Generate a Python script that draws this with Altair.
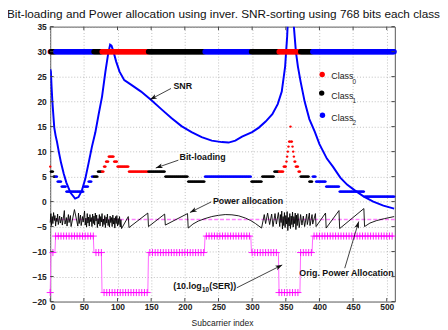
import math
import altair as alt
import pandas as pd

# ---------------- data ----------------
N_SUB = 512

# (first subcarrier, last subcarrier, class)
CLASS_RUNS = [(0, 0, 0), (1, 7, 1), (8, 64, 2), (65, 76, 1), (77, 145, 0),
              (146, 229, 1), (230, 298, 2), (299, 339, 1), (340, 371, 0),
              (372, 389, 1), (390, 511, 2)]

# (first subcarrier, last subcarrier, bits)
BIT_RUNS = [(0, 0, 7), (1, 4, 6), (5, 7, 5), (8, 10, 5), (11, 16, 4), (17, 23, 3),
            (24, 49, 2), (50, 56, 3), (57, 61, 4), (62, 64, 5), (65, 70, 5),
            (71, 76, 6), (77, 79, 6), (80, 82, 7), (83, 86, 8), (87, 94, 9),
            (95, 99, 8), (100, 116, 7), (117, 145, 6), (146, 170, 6),
            (171, 204, 5), (205, 229, 4), (230, 298, 5), (299, 314, 4),
            (315, 332, 5), (333, 339, 6), (340, 346, 6), (347, 350, 7),
            (351, 351, 8), (352, 352, 9), (353, 353, 10), (354, 354, 11),
            (355, 356, 12), (357, 357, 15), (358, 359, 12), (360, 360, 11),
            (361, 361, 10), (362, 362, 9), (363, 364, 8), (365, 368, 7),
            (369, 371, 6), (372, 384, 5), (385, 389, 4), (390, 394, 5),
            (395, 409, 4), (410, 429, 3), (430, 466, 2), (467, 511, 1)]

SER_DB = [-18.2, -10.2, -6.9]            # 10.log10(SER) per class
CLASS_NAMES = ["Class", "Class", "Class"]
CLASS_SUBS = ["0", "1", "2"]
BAND_Y = 30
ORIG_POWER_DB = -3.6

SNR_X = [0, 1, 2, 3, 4, 6, 8, 10, 13, 16, 20, 24, 30, 37, 42, 47, 52, 57, 62, 67,
         72, 77, 82, 86, 89, 91, 94, 98, 103, 110, 120, 135, 150, 165, 180, 195,
         210, 225, 240, 255, 265, 275, 285, 300, 310, 320, 330, 338, 344, 349,
         352, 354, 357, 360, 362, 365, 368, 372, 378, 385, 393, 400, 411, 420,
         431, 441, 452, 466, 480, 495, 511]
SNR_DB = [26.5, 26.0, 23.0, 20.5, 18.5, 14.8, 13.2, 12.0, 9.8, 7.8, 5.6, 3.8, 1.8,
          0.6, 0.9, 2.2, 4.5, 7.7, 11.0, 13.8, 17.5, 21.0, 26.0, 29.5, 31.4, 31.2,
          30.0, 28.0, 26.0, 24.3, 23.4, 22.0, 20.3, 18.5, 16.7, 15.1, 13.9, 12.9,
          12.2, 11.9, 11.8, 12.2, 13.0, 13.9, 14.8, 16.0, 17.5, 19.5, 22.0, 27.0,
          33.0, 39.0, 45.0, 39.0, 35.0, 30.0, 27.0, 24.0, 20.0, 16.5, 14.0, 11.5,
          8.6, 7.0, 4.8, 3.4, 2.3, 1.0, 0.0, -0.8, -1.4]

POW_X = [0, 1, 2, 3, 4, 5, 6, 7, 8, 9, 10, 11, 12, 14, 15, 17, 18, 21, 22, 24, 25,
         27, 28, 30, 31, 36, 41, 42, 43, 45, 46, 48, 49, 51, 52, 53, 54, 55, 56,
         57, 58, 59, 60, 61, 62, 63, 64, 65, 66, 67, 68, 69, 70, 71, 72, 73, 74,
         75, 76, 77, 78, 79, 80, 81, 82, 83, 84, 85, 86, 87, 88, 89, 90, 91, 92,
         93, 94, 95, 96, 97, 98, 99, 100, 101, 102, 103, 104, 105, 106, 116, 117,
         145, 146, 170, 171, 204, 205, 212, 220, 230, 240, 250, 260, 270, 280,
         290, 298, 305, 314, 318, 320, 323, 326, 329, 331, 334, 336, 339, 341,
         342, 343, 344, 345, 346, 347, 348, 349, 350, 351, 352, 353, 354, 355,
         356, 357, 358, 359, 360, 361, 362, 363, 364, 365, 366, 367, 368, 370,
         372, 374, 376, 378, 381, 382, 385, 386, 389, 390, 394, 395, 409, 410,
         429, 430, 466, 467, 475, 485, 497, 511]
POW_DB = [-4.2, -2.4, -4.8, -3.0, -4.4, -2.2, -3.8, -2.8, -4.9, -3.3, -4.0, -2.5,
          -4.6, -2.9, -4.3, -3.1, -4.7, -1.8, -4.5, -3.2, -4.9, -2.6, -4.2, -2.8,
          -5.0, -1.6, -4.9, -2.3, -4.4, -2.7, -4.8, -3.0, -4.1, -1.9, -4.7, -3.3,
          -5.1, -2.4, -4.3, -3.1, -4.9, -2.6, -4.0, -3.2, -5.0, -2.5, -4.4, -2.9,
          -4.7, -2.3, -3.9, -2.7, -5.2, -3.4, -4.5, -2.6, -4.9, -3.0, -4.1, -2.4,
          -5.0, -3.5, -4.6, -2.8, -5.2, -3.1, -4.3, -2.5, -4.8, -3.6, -5.1, -2.9,
          -4.2, -3.2, -5.0, -2.7, -4.5, -3.3, -5.3, -3.0, -4.4, -2.8, -4.9, -3.4,
          -4.6, -3.0, -5.1, -3.6, -5.4, -3.0, -5.2, -2.3, -5.0, -2.5, -4.7, -2.4,
          -5.3, -4.5, -3.9, -3.4, -3.0, -2.75, -2.6, -2.65, -2.85, -3.3, -3.8,
          -4.4, -5.3, -2.6, -4.4, -2.3, -4.6, -2.5, -5.0, -2.4, -4.5, -2.2, -5.0,
          -2.6, -4.2, -1.9, -5.5, -3.0, -4.8, -2.2, -5.2, -2.8, -4.5, -2.0, -5.8,
          -3.2, -4.9, -2.4, -5.4, -2.9, -4.6, -2.1, -5.1, -3.0, -4.4, -2.3, -5.6,
          -2.7, -4.8, -2.4, -5.2, -2.6, -4.7, -2.9, -5.0, -2.5, -4.6, -2.3, -4.8,
          -2.6, -4.5, -2.4, -5.0, -2.3, -5.3, -1.8, -5.4, -1.4, -5.0, -4.3, -3.8,
          -3.4, -3.0]

X_TICKS = list(range(0, 501, 50))
Y_TICKS = list(range(-20, 36, 5))
TITLE = "Bit-loading and Power allocation using inver. SNR-sorting using 768 bits each class"
X_TITLE = "Subcarrier index"
CLASS_COLORS = ["#ff0000", "#000000", "#0000ff"]

# ---------------- tables ----------------
cls = [0] * N_SUB
for a, b, c in CLASS_RUNS:
    for i in range(a, b + 1):
        cls[i] = c
bits = [0] * N_SUB
for a, b, v in BIT_RUNS:
    for i in range(a, b + 1):
        bits[i] = v
sub = pd.DataFrame({"x": list(range(N_SUB)), "cls": cls, "bits": bits})
sub["ser"] = [SER_DB[c] for c in cls]
sub["color"] = [CLASS_COLORS[c] for c in cls]
sub["band"] = BAND_Y

snr_df = pd.DataFrame({"x": SNR_X, "y": SNR_DB})
pow_df = pd.DataFrame({"x": POW_X, "y": POW_DB})

# ---------------- layout ----------------
W, H = 351, 280
FONT = "Liberation Sans"
xs = alt.Scale(domain=[0, 512], nice=False, zero=False)
ys = alt.Scale(domain=[-20, 35], nice=False, zero=False)
grid_kw = dict(grid=True, gridDash=[1, 2], gridColor="#b0b0b0", gridWidth=0.8,
               ticks=False, domain=False, labelFont=FONT, labelFontSize=8.6,
               labelFontWeight="bold", labelColor="#222222", title=None)
xaxis = alt.Axis(values=X_TICKS, labelPadding=1.5, **grid_kw)
yaxis = alt.Axis(values=Y_TICKS, labelPadding=4, **grid_kw)


def X(f):
    return alt.X(f"{f}:Q", scale=xs, axis=xaxis)


def Y(f):
    return alt.Y(f"{f}:Q", scale=ys, axis=yaxis)


one = pd.DataFrame({"k": [0]})

layers = []

orig = alt.Chart(pd.DataFrame({"y": [ORIG_POWER_DB]})).mark_rule(
    color="#ff80ff", strokeDash=[4, 2], strokeWidth=1.6).encode(y=Y("y"))
ser_line = alt.Chart(sub).mark_line(color="#ff66ff", strokeWidth=1).encode(
    x=X("x"), y=Y("ser"))
ser_pts = alt.Chart(sub[sub.x % 4 == 0]).mark_point(
    shape="M0,-1L0,1M-1,0L1,0", filled=False, color="#ff00ff", strokeWidth=0.9,
    size=52, opacity=1).encode(x=X("x"), y=Y("ser"))
power = alt.Chart(pow_df).mark_line(color="#000000", strokeWidth=0.9).encode(
    x=X("x"), y=Y("y"))
bitpts = alt.Chart(sub).mark_circle(size=6, opacity=1).encode(
    x=X("x"), y=Y("bits"), color=alt.Color("color:N", scale=None))
snr = alt.Chart(snr_df).mark_line(color="#0000ff", strokeWidth=2, clip=True).encode(
    x=X("x"), y=Y("y"))
band = alt.Chart(sub).mark_circle(size=28, opacity=1).encode(
    x=X("x"), y=Y("band"), color=alt.Color("color:N", scale=None))

layers += [orig, ser_line, ser_pts, power, bitpts, snr, band]

# inward ticks
tx = pd.DataFrame({"x": X_TICKS})
ty = pd.DataFrame({"y": Y_TICKS})
tick_col = "#444444"
layers.append(alt.Chart(tx).mark_rule(color=tick_col).encode(x=X("x"), y=alt.value(H), y2=alt.value(H - 3.5)))
layers.append(alt.Chart(tx).mark_rule(color=tick_col).encode(x=X("x"), y=alt.value(0), y2=alt.value(3.5)))
layers.append(alt.Chart(ty).mark_rule(color=tick_col).encode(y=Y("y"), x=alt.value(0), x2=alt.value(3.5)))
layers.append(alt.Chart(ty).mark_rule(color=tick_col).encode(y=Y("y"), x=alt.value(W), x2=alt.value(W - 3.5)))


def text(s, x, y, size=9, weight="bold", align="left", color="#111111"):
    return alt.Chart(one).mark_text(text=s, font=FONT, fontSize=size, fontWeight=weight,
                                    align=align, baseline="middle", color=color).encode(
        x=alt.value(x), y=alt.value(y))


def arrow(x0, y0, x1, y1):
    ang = math.degrees(math.atan2(x1 - x0, -(y1 - y0))) % 360
    line = alt.Chart(one).mark_rule(color="#111111", strokeWidth=0.8).encode(
        x=alt.value(x0), y=alt.value(y0), x2=alt.value(x1), y2=alt.value(y1))
    head = alt.Chart(one).mark_point(shape="M0,0L0.7,2L0,1.5L-0.7,2Z", filled=True,
                                     color="#111111", opacity=1, size=49, angle=ang).encode(
        x=alt.value(x1), y=alt.value(y1))
    return [line, head]


# legend
leg_pos = [(277, 48.7, 50.3, 56.0), (276.5, 67.7, 70.3, 76.0), (277.3, 90.3, 92.7, 98.3)]
for k, (dx, dy, ty_, sy) in enumerate(leg_pos):
    layers.append(alt.Chart(one).mark_circle(size=30, opacity=1, color=CLASS_COLORS[k]).encode(
        x=alt.value(dx), y=alt.value(dy)))
    layers.append(text(CLASS_NAMES[k], 286.3, ty_, size=9, weight="normal", color="#222222"))
    layers.append(text(CLASS_SUBS[k], 308.0, sy, size=6.5, weight="normal", color="#222222"))

# annotations
layers.append(text("SNR", 125.5, 61))
layers += arrow(123, 63, 101.7, 74.3)
layers.append(text("Bit-loading", 131.7, 132.7))
layers += arrow(130.5, 136, 107.5, 144)
layers.append(text("Power allocation", 165.7, 177.7))
layers += arrow(164, 178.5, 142.3, 189.3)
layers.append(text("(10.log", 125.3, 264.3))
layers.append(text("10", 154.5, 268.0, size=6.5))
layers.append(text("(SER))", 162.0, 264.3))
layers += arrow(190, 266, 236.3, 242.7)
layers.append(text("Orig. Power Allocation", 253.7, 251))
layers += arrow(300, 246, 314.2, 198.5)

# title and x label
layers.append(text(TITLE, -44, -12.5, size=12, weight="normal", color="#111111"))
layers.append(text(X_TITLE, W / 2, 302, size=8.7, weight="normal", align="center", color="#222222"))

chart = alt.layer(*layers).properties(
    width=W, height=H,
    padding={"left": 43, "top": 16, "right": 46, "bottom": 26},
    autosize=alt.AutoSizeParams(type="none"),
    background="white",
).configure_view(stroke="#555555", strokeWidth=1)

chart.save("out.html", embed_options={"renderer": "svg", "actions": False})
